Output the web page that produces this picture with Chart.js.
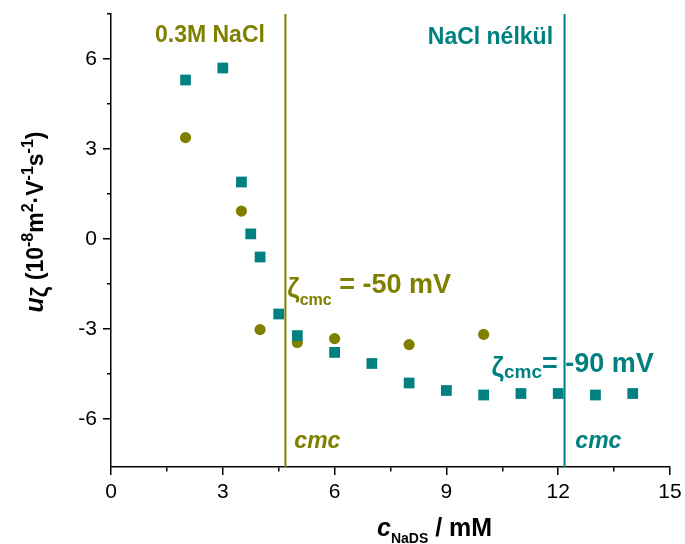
<!DOCTYPE html>
<html>
<head>
<meta charset="utf-8">
<script src="https://cdn.jsdelivr.net/npm/chart.js@4.4.1/dist/chart.umd.min.js"></script>
<style>
  body { margin: 0; background: #fff; }
  #wrap { width: 685px; height: 544px; position: relative; }
</style>
</head>
<body>
<div id="wrap"><canvas id="chart"></canvas></div>
<script>
// data
const noSaltX = [2, 3, 3.5, 3.75, 4, 4.5, 5, 6, 7, 8, 9, 10, 11, 12, 13, 14];
const noSaltY = [5.3, 5.7, 1.9, 0.17, -0.6, -2.5, -3.22, -3.78, -4.15, -4.8, -5.05, -5.2, -5.15, -5.15, -5.2, -5.15];
const saltX = [2, 3.5, 4, 5, 6, 8, 10];
const saltY = [3.38, 0.93, -3.02, -3.45, -3.32, -3.52, -3.18];
const cmcSalt = 4.68;
const cmcNoSalt = 12.17;
const xTicks = [0, 3, 6, 9, 12, 15];
const yTicks = [-6, -3, 0, 3, 6];
const yMin = -7.6, yMax = 7.5;

const OLIVE = '#808000';
const TEAL = '#008080';
const FONT = '"Liberation Sans", Arial, sans-serif';

function pts(xs, ys) {
    return xs.map((x, i) => ({ x: x, y: ys[i] }));
}

// draws a run of text pieces: [text, font, dy]
function drawRun(ctx, parts, x, y, color) {
    ctx.fillStyle = color;
    ctx.textBaseline = 'alphabetic';
    ctx.textAlign = 'left';
    parts.forEach(p => {
        ctx.font = p[1];
        ctx.fillText(p[0], x, y + (p[2] || 0));
        x += ctx.measureText(p[0]).width;
    });
}
function runWidth(ctx, parts) {
    let w = 0;
    parts.forEach(p => { ctx.font = p[1]; w += ctx.measureText(p[0]).width; });
    return w;
}

// labels and axis titles
const textPlugin = {
    id: 'texts',
    afterDraw(chart) {
        const ctx = chart.ctx;
        const xs = chart.scales.x, ys = chart.scales.y;
        const px = v => xs.getPixelForValue(v);
        const py = v => ys.getPixelForValue(v);
        ctx.save();
        drawRun(ctx, [['0.3M NaCl', 'bold 23px ' + FONT]], px(1.18), py(6.57), OLIVE);
        drawRun(ctx, [['NaCl nélkül', 'bold 23px ' + FONT]], px(8.5), py(6.5), TEAL);
        drawRun(ctx, [['ζ', 'bold 27px ' + FONT, 4], ['cmc', 'bold 16px ' + FONT, 12], [' = -50 mV', 'bold 27px ' + FONT]], px(4.73), py(-1.8), OLIVE);
        drawRun(ctx, [['ζ', 'bold 27px ' + FONT, 4], ['cmc', 'bold 19px ' + FONT, 6], ['= -90 mV', 'bold 27px ' + FONT]], px(10.21), py(-4.43), TEAL);
        drawRun(ctx, [['cmc', 'italic bold 23px ' + FONT]], px(4.92), py(-6.97), OLIVE);
        drawRun(ctx, [['cmc', 'italic bold 23px ' + FONT]], px(12.46), py(-6.97), TEAL);

        // x title
        drawRun(ctx, [['c', 'italic bold 25px ' + FONT], ['NaDS', 'bold 14px ' + FONT, 7], [' / mM', 'bold 25px ' + FONT]], 377, 536, '#000');

        // y title
        const yParts = [
            ['u', 'italic bold 25px ' + FONT], ['ζ', 'bold 23px ' + FONT, 5],
            [' (10', 'bold 23px ' + FONT], ['-8', 'bold 16px ' + FONT, -10],
            ['m', 'bold 23px ' + FONT], ['2', 'bold 16px ' + FONT, -10],
            ['·V', 'bold 23px ' + FONT], ['-1', 'bold 16px ' + FONT, -10],
            ['s', 'bold 23px ' + FONT], ['-1', 'bold 16px ' + FONT, -10],
            [')', 'bold 23px ' + FONT]
        ];
        const w = runWidth(ctx, yParts);
        ctx.translate(43, 222 + w / 2);
        ctx.rotate(-Math.PI / 2);
        drawRun(ctx, yParts, 0, 0, '#000');
        ctx.restore();
    }
};

const tickFont = { family: FONT, size: 21 };

// major ticks full length, minor ticks only the half next to the axis
function tickGrid(labels, minorOffset) {
    return {
        drawOnChartArea: false, drawTicks: true, tickLength: 8, lineWidth: 1.5,
        color: '#000',
        tickColor: c => (c.tick && c.tick.value < yMin + 0.5 && !labels.includes(c.tick.value) && labels === yTicks) ? 'rgba(0,0,0,0)' : '#000',
        tickBorderDash: c => (c.tick && labels.includes(c.tick.value)) ? [] : [4, 4],
        tickBorderDashOffset: c => (c.tick && labels.includes(c.tick.value)) ? 0 : minorOffset
    };
}

new Chart(document.getElementById('chart'), {
    type: 'scatter',
    data: {
        datasets: [
            {
                data: [{ x: cmcSalt, y: yMin }, { x: cmcSalt, y: yMax }],
                showLine: true, borderColor: OLIVE, borderWidth: 2, pointRadius: 0
            },
            {
                data: [{ x: cmcNoSalt, y: yMin }, { x: cmcNoSalt, y: yMax }],
                showLine: true, borderColor: TEAL, borderWidth: 2, pointRadius: 0
            },
            {
                data: pts(noSaltX, noSaltY),
                pointStyle: 'rect', pointRadius: 7.6, backgroundColor: TEAL, borderWidth: 0
            },
            {
                data: pts(saltX, saltY),
                pointStyle: 'circle', pointRadius: 5.6, backgroundColor: OLIVE, borderWidth: 0
            }
        ]
    },
    options: {
        responsive: true,
        maintainAspectRatio: false,
        animation: false,
        events: [],
        layout: { padding: { left: 0, right: 15, top: 14, bottom: 0 } },
        plugins: { legend: { display: false }, tooltip: { enabled: false } },
        scales: {
            x: {
                type: 'linear', min: 0, max: 15,
                afterFit: s => { s.height = 77; s.paddingLeft = 0; s.paddingRight = 0; },
                border: { display: true, color: '#000', width: 1.5 },
                grid: tickGrid(xTicks, 0),
                ticks: {
                    stepSize: 1.5, autoSkip: false, maxRotation: 0, color: '#000', font: tickFont, padding: 5,
                    callback: v => xTicks.includes(v) ? String(v) : ''
                }
            },
            y: {
                type: 'linear', min: yMin, max: yMax,
                afterFit: s => { s.width = 111; s.paddingTop = 0; s.paddingBottom = 0; },
                border: { display: true, color: '#000', width: 1.5 },
                grid: tickGrid(yTicks, 4),
                ticks: {
                    stepSize: 1.5, autoSkip: false, includeBounds: false, color: '#000', font: tickFont, padding: 6,
                    callback: v => yTicks.includes(v) ? String(v) : ''
                }
            }
        }
    },
    plugins: [textPlugin]
});
</script>
</body>
</html>
